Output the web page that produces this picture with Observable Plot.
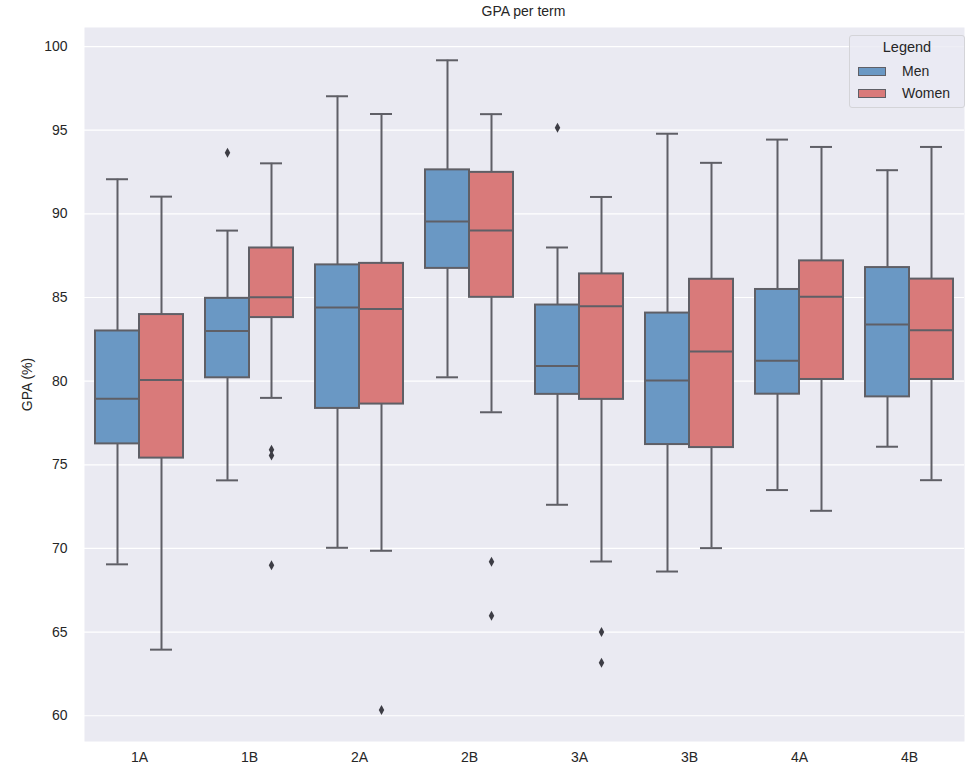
<!DOCTYPE html>
<html>
<head>
<meta charset="utf-8">
<script src="https://cdn.jsdelivr.net/npm/d3@7"></script>
<script src="https://cdn.jsdelivr.net/npm/@observablehq/plot@0.6"></script>
<style>
  body { margin: 0; background: #fff; font-family: "Liberation Sans", Arial, sans-serif; }
  #wrap { position: relative; width: 973px; height: 769px; }
  #title { position: absolute; left: 80px; width: 887px; top: 3px; text-align: center; font-size: 14px; color: #262626; }
  #legend { position: absolute; left: 849px; top: 35px; width: 116px; height: 73px; box-sizing: border-box;
            background: rgba(234,234,242,0.8); border: 1px solid #d4d4d8; border-radius: 3px; font-size: 14px; color: #262626; }
  #legend .t { position: absolute; top: 3px; left: 0; width: 100%; text-align: center; font-size: 14.5px; }
  #legend .row { position: absolute; left: 8px; height: 16px; }
  #legend .sw { position: absolute; left: 0; top: 4px; width: 28px; height: 9px; border: 1px solid #5f5f66; box-sizing: border-box; }
  #legend .lb { position: absolute; left: 44px; top: 0; white-space: nowrap; }
</style>
</head>
<body>
<div id="wrap">
  <div id="chart"></div>
  <div id="title">GPA per term</div>
  <div id="legend"></div>
</div>
<script>
const terms = ["1A", "1B", "2A", "2B", "3A", "3B", "4A", "4B"];
const genders = ["Men", "Women"];
const colors = ["#6a98c4", "#d97a7a"];

const menLo  = [69.05, 74.07, 70.04, 80.23, 72.61, 68.62, 73.49, 76.08];
const menQ1  = [76.25, 80.20, 78.37, 86.74, 79.21, 76.21, 79.22, 79.06];
const menMed = [78.95, 83.00, 84.41, 89.54, 80.91, 80.04, 81.22, 83.39];
const menQ3  = [83.00, 84.95, 86.95, 92.63, 84.55, 84.07, 85.48, 86.79];
const menHi  = [92.07, 89.00, 97.03, 99.18, 87.99, 94.79, 94.44, 92.61];

const womenLo  = [63.95, 79.00, 69.86, 78.14, 69.22, 70.02, 72.25, 74.08];
const womenQ1  = [75.40, 83.80, 78.63, 85.01, 78.91, 76.03, 80.10, 80.10];
const womenMed = [80.07, 85.01, 84.32, 89.00, 84.48, 81.78, 85.04, 83.05];
const womenQ3  = [83.98, 87.96, 87.04, 92.48, 86.41, 86.09, 87.19, 86.10];
const womenHi  = [91.03, 93.02, 95.97, 95.96, 91.01, 93.05, 94.00, 94.00];

const outlierTerm   = ["1B", "3A", "1B", "1B", "1B", "2A", "2B", "2B", "3A", "3A"];
const outlierGender = ["Men", "Men", "Women", "Women", "Women", "Women", "Women", "Women", "Women", "Women"];
const outlierValue  = [93.66, 95.14, 75.90, 75.55, 69.00, 60.34, 69.20, 65.97, 65.00, 63.17];

const yTicks = [60, 65, 70, 75, 80, 85, 90, 95, 100];

const boxes = terms.flatMap((t, i) => [
  {term: t, gender: "Men", lo: menLo[i], q1: menQ1[i], med: menMed[i], q3: menQ3[i], hi: menHi[i]},
  {term: t, gender: "Women", lo: womenLo[i], q1: womenQ1[i], med: womenMed[i], q3: womenQ3[i], hi: womenHi[i]}
]);
const outliers = outlierValue.map((v, i) => ({term: outlierTerm[i], gender: outlierGender[i], value: v}));

const thinDiamond = {
  draw(ctx, size) {
    const r = Math.sqrt(size / Math.PI);
    ctx.moveTo(0, -r);
    ctx.lineTo(r * 0.55, 0);
    ctx.lineTo(0, r);
    ctx.lineTo(-r * 0.55, 0);
    ctx.closePath();
  }
};

const lineColor = "#5f5f66";

const chart = Plot.plot({
  width: 973,
  height: 769,
  marginLeft: 80,
  marginRight: 6,
  marginTop: 27,
  marginBottom: 28,
  style: {fontFamily: "Liberation Sans, Arial, sans-serif", fontSize: "14px", color: "#262626", background: "#fff"},
  fx: {domain: terms, paddingInner: 0, paddingOuter: 0, axis: "bottom", label: null, tickSize: 0, tickPadding: 11},
  x: {domain: genders, paddingInner: 0, paddingOuter: 0.25, axis: null},
  y: {domain: [58.46, 101.14], ticks: yTicks, tickSize: 0, tickPadding: 17, label: "GPA (%)", labelAnchor: "center", labelArrow: "none", labelOffset: 62},
  color: {domain: genders, range: colors},
  marks: [
    Plot.frame({fill: "#eaeaf2", stroke: "none", facet: "super"}),
    Plot.gridY(yTicks, {stroke: "#fff", strokeOpacity: 1, strokeWidth: 1.2}),
    Plot.ruleX(boxes, {fx: "term", x: "gender", y1: "lo", y2: "hi", stroke: lineColor, strokeWidth: 2}),
    Plot.tickY(boxes, {fx: "term", x: "gender", y: "lo", stroke: lineColor, strokeWidth: 2, insetLeft: 11, insetRight: 11}),
    Plot.tickY(boxes, {fx: "term", x: "gender", y: "hi", stroke: lineColor, strokeWidth: 2, insetLeft: 11, insetRight: 11}),
    Plot.barY(boxes, {fx: "term", x: "gender", y1: "q1", y2: "q3", fill: "gender", stroke: lineColor, strokeWidth: 2}),
    Plot.tickY(boxes, {fx: "term", x: "gender", y: "med", stroke: lineColor, strokeWidth: 2}),
    Plot.dot(outliers, {fx: "term", x: "gender", y: "value", symbol: thinDiamond, r: 5, fill: "#3d3d45", stroke: "none"})
  ]
});
document.getElementById("chart").appendChild(chart);

const legend = document.getElementById("legend");
const t = document.createElement("div");
t.className = "t";
t.textContent = "Legend";
legend.appendChild(t);
genders.forEach((g, i) => {
  const row = document.createElement("div");
  row.className = "row";
  row.style.top = (27 + i * 22) + "px";
  const sw = document.createElement("div");
  sw.className = "sw";
  sw.style.background = colors[i];
  const lb = document.createElement("div");
  lb.className = "lb";
  lb.textContent = g;
  row.appendChild(sw);
  row.appendChild(lb);
  legend.appendChild(row);
});
</script>
</body>
</html>
